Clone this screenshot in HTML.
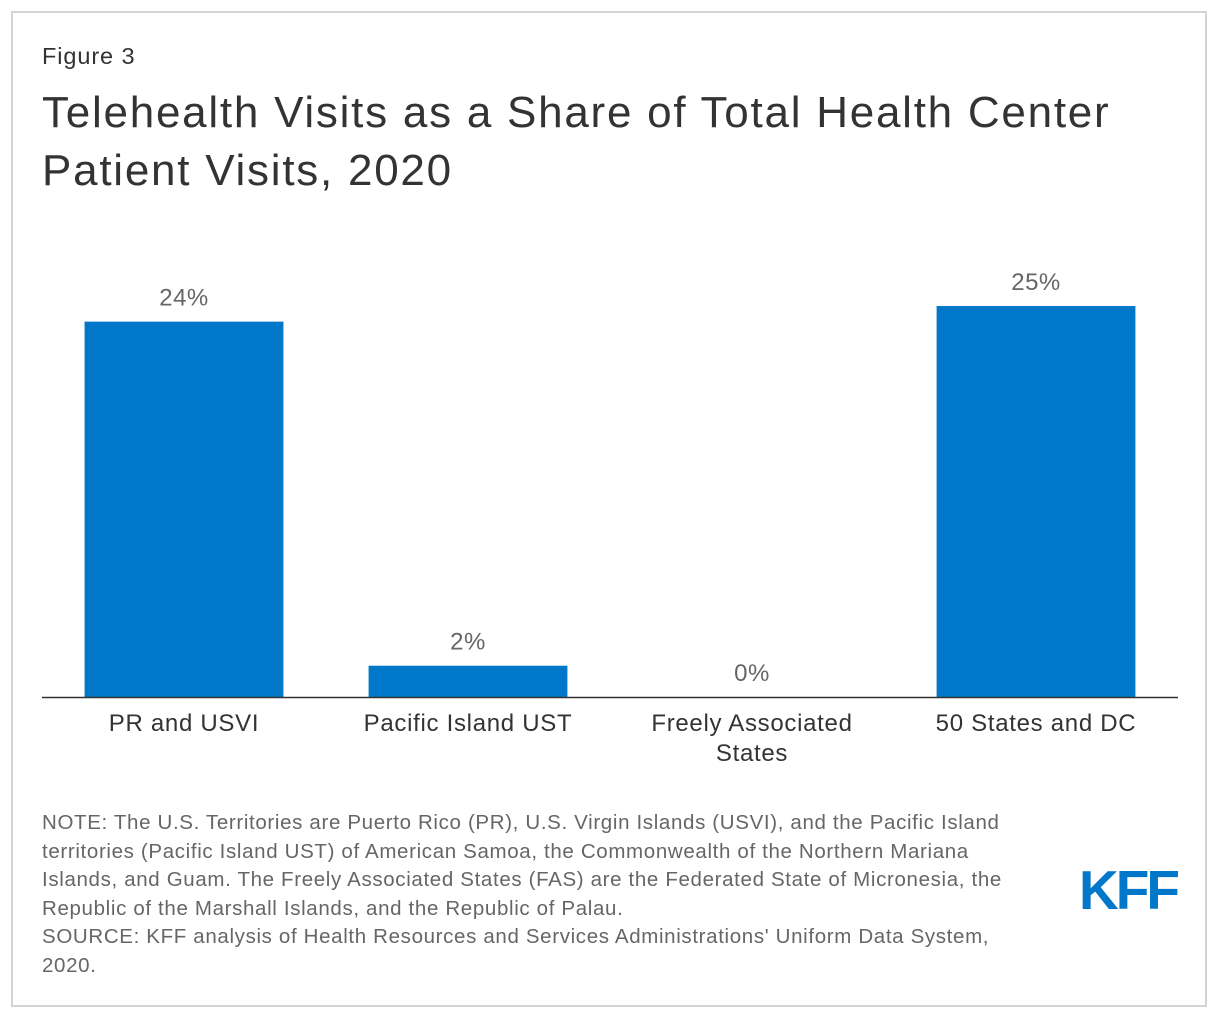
<!DOCTYPE html>
<html><head><meta charset="utf-8"><style>
body{margin:0;background:#fff;font-family:"Liberation Sans",Arial,sans-serif;}
#frame{position:absolute;left:11px;top:11px;width:1196px;height:996px;border:2px solid #d4d4d4;box-sizing:border-box;}
.t{position:absolute;color:#333;}
</style></head><body>
<div id="frame"></div>
<div class="t" style="left:42px;top:43px;font-size:23.5px;letter-spacing:0.9px;">Figure 3</div>
<div class="t" style="left:42px;top:84px;font-size:44px;letter-spacing:1.75px;line-height:58px;width:1130px;">Telehealth Visits as a Share of Total Health Center Patient Visits, 2020</div>
<svg id="chart" width="1220" height="800" style="position:absolute;left:0;top:0" font-family="Liberation Sans, Arial, sans-serif"></svg>
<div class="t" style="left:42px;top:809px;font-size:20.5px;letter-spacing:0.65px;line-height:28.6px;color:#666;width:975px;">NOTE: The U.S. Territories are Puerto Rico (PR), U.S. Virgin Islands (USVI), and the Pacific Island territories (Pacific Island UST) of American Samoa, the Commonwealth of the Northern Mariana Islands, and Guam. The Freely Associated States (FAS) are the Federated State of Micronesia, the Republic of the Marshall Islands, and the Republic of Palau.<br>SOURCE: KFF analysis of Health Resources and Services Administrations' Uniform Data System, 2020.</div>
<div class="t" style="left:1079px;top:857px;font-size:55px;font-weight:bold;color:#0077c8;letter-spacing:-3px;line-height:66px;">KFF</div>
<script>
const categories=[["PR and USVI"],["Pacific Island UST"],["Freely Associated","States"],["50 States and DC"]];
const values=[24,2,0,25];
const valueLabels=["24%","2%","0%","25%"];
const svg=document.getElementById('chart');
const NS='http://www.w3.org/2000/svg';
const x0=42,x1=1178,baseY=697,pxPer=15.64;
const band=(x1-x0)/categories.length;
const xPos=i=>x0+band*i+band*0.15;
const bw=band*0.7;
const y=v=>baseY-v*pxPer;
values.forEach((v,i)=>{
 const r=document.createElementNS(NS,'rect');
 r.setAttribute('x',xPos(i));r.setAttribute('y',y(v));r.setAttribute('width',bw);r.setAttribute('height',baseY-y(v));r.setAttribute('fill','#0077c8');
 
 
 svg.appendChild(r);
 const t=document.createElementNS(NS,'text');
 t.setAttribute('x',xPos(i)+bw/2);t.setAttribute('y',y(v)-16);t.setAttribute('text-anchor','middle');t.setAttribute('font-size','24');t.setAttribute('letter-spacing','0.5');t.setAttribute('fill','#666');
 t.textContent=valueLabels[i];
 
 
 svg.appendChild(t);
 categories[i].forEach((line,j)=>{
  const c=document.createElementNS(NS,'text');
  c.setAttribute('x',xPos(i)+bw/2);c.setAttribute('y',731+j*30);c.setAttribute('text-anchor','middle');c.setAttribute('font-size','24');c.setAttribute('letter-spacing','0.7');c.setAttribute('fill','#333');
  c.textContent=line;
  
  
  svg.appendChild(c);
 });
});
const ax=document.createElementNS(NS,'line');
ax.setAttribute('x1',x0);ax.setAttribute('x2',x1);ax.setAttribute('y1',baseY+0.5);ax.setAttribute('y2',baseY+0.5);ax.setAttribute('stroke','#333');ax.setAttribute('stroke-width','1.5');


svg.appendChild(ax);
</script>
</body></html>
